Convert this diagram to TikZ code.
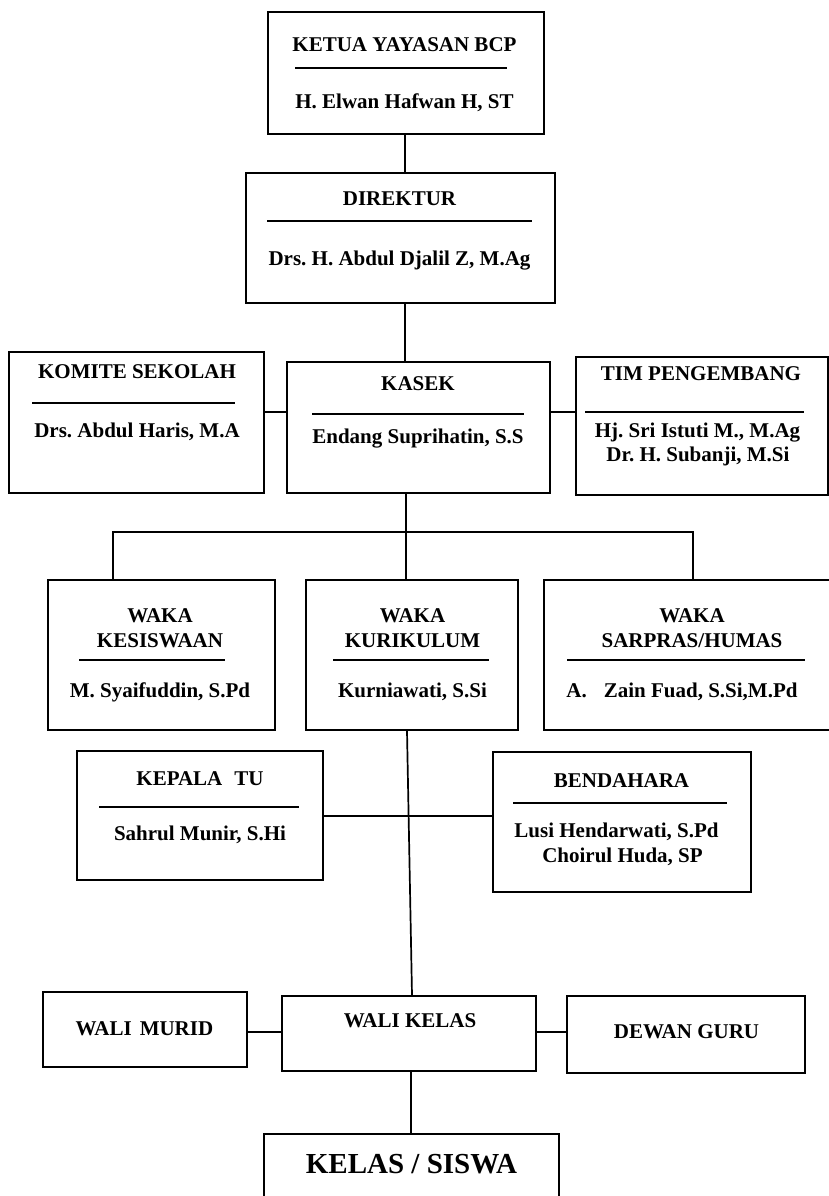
\documentclass[tikz,border=0pt]{standalone}
\usepackage{fontspec}
\setmainfont{Liberation Serif}
\frenchspacing
\begin{document}
\begin{tikzpicture}[x=1pt,y=-1pt,
  box/.style={draw, line width=1.7pt, rectangle, inner sep=0pt},
  ttl/.style={font=\fontsize{21}{24}\selectfont\bfseries, anchor=base, inner sep=0pt},
  big/.style={font=\fontsize{29}{32}\selectfont\bfseries, anchor=base, inner sep=0pt},
  ul/.style={line width=1.7pt},
  conn/.style={line width=1.7pt}]
\useasboundingbox (0,0) rectangle (829,1196);
% boxes
\node[box, minimum width=276pt, minimum height=122pt] (ketua) at (406,73) {};
\node[box, minimum width=309pt, minimum height=130pt] (direktur) at (400.5,238) {};
\node[box, minimum width=255pt, minimum height=141pt] (komite) at (136.5,422.5) {};
\node[box, minimum width=263pt, minimum height=131pt] (kasek) at (418.5,427.5) {};
\node[box, minimum width=252pt, minimum height=138pt] (tim) at (702,426) {};
\node[box, minimum width=227pt, minimum height=150pt] (kes) at (161.5,655) {};
\node[box, minimum width=212pt, minimum height=150pt] (kur) at (412,655) {};
\node[box, minimum width=296pt, minimum height=150pt] (sar) at (692,655) {};
\node[box, minimum width=246pt, minimum height=129pt] (tu) at (200,815.5) {};
\node[box, minimum width=258pt, minimum height=140pt] (bend) at (622,822) {};
\node[box, minimum width=204pt, minimum height=75pt] (murid) at (145,1029.5) {};
\node[box, minimum width=254pt, minimum height=75pt] (kelas) at (409,1033.5) {};
\node[box, minimum width=238pt, minimum height=77pt] (dewan) at (686,1034.5) {};
\node[box, minimum width=295pt, minimum height=96pt] (siswa) at (411.5,1182) {};
% texts
\node[ttl] (ketuaT) at (404.5,52) {KETUA YAYASAN BCP};
\draw[ul] (295,68) -- (507,68);
\node[ttl] (ketuaN) at (404.5,109) {H. Elwan Hafwan H, ST};
\node[ttl] (direkturT) at (399.5,205) {DIREKTUR};
\draw[ul] (267,221) -- (532,221);
\node[ttl] (direkturN) at (399.5,265) {Drs. H. Abdul Djalil Z, M.Ag};
\node[ttl] (komiteT) at (137,378) {KOMITE SEKOLAH};
\draw[ul] (32,403) -- (235,403);
\node[ttl] (komiteN) at (137,437) {Drs. Abdul Haris, M.A};
\node[ttl] (kasekT) at (418,390) {KASEK};
\draw[ul] (312,414) -- (524,414);
\node[ttl] (kasekN) at (418,443) {Endang Suprihatin, S.S};
\node[ttl] (timT) at (701,380) {TIM PENGEMBANG};
\draw[ul] (585,412) -- (804,412);
\node[ttl] (timN1) at (697.5,437) {Hj. Sri Istuti M., M.Ag};
\node[ttl] (timN2) at (698,461) {Dr. H. Subanji, M.Si};
\node[ttl] (kesT1) at (160,622) {WAKA};
\node[ttl] (kesT2) at (160,647) {KESISWAAN};
\draw[ul] (79,660) -- (225,660);
\node[ttl] (kesN) at (160,697) {M. Syaifuddin, S.Pd};
\node[ttl] (kurT1) at (412.5,622) {WAKA};
\node[ttl] (kurT2) at (412.5,647) {KURIKULUM};
\draw[ul] (333,660) -- (489,660);
\node[ttl] (kurN) at (412.5,697) {Kurniawati, S.Si};
\node[ttl] (sarT1) at (692,622) {WAKA};
\node[ttl] (sarT2) at (692,647) {SARPRAS/HUMAS};
\draw[ul] (567,660) -- (805,660);
\node[ttl] (sarN) at (682,697) {A.\hspace{17pt}Zain Fuad, S.Si,M.Pd};
\node[ttl] (tuT) at (200,785) {KEPALA\hspace{12pt}TU};
\draw[ul] (99,807) -- (299,807);
\node[ttl] (tuN) at (200,840) {Sahrul Munir, S.Hi};
\node[ttl] (bendT) at (621.5,787) {BENDAHARA};
\draw[ul] (513,803) -- (727,803);
\node[ttl] (bendN1) at (616.5,837) {Lusi Hendarwati, S.Pd};
\node[ttl] (bendN2) at (622.5,862) {Choirul Huda, SP};
\node[ttl] (muridT) at (144.5,1035) {WALI\hspace{8pt}MURID};
\node[ttl] (kelasT) at (410,1027) {WALI KELAS};
\node[ttl] (dewanT) at (686.5,1038) {DEWAN GURU};
\node[big] (siswaT) at (411.5,1173) {KELAS / SISWA};
% connectors
\draw[conn] (ketua.south -| 405,0) -- (direktur.north -| 405,0);
\draw[conn] (direktur.south -| 405,0) -- (kasek.north -| 405,0);
\draw[conn] (komite.east |- 0,412) -- (kasek.west |- 0,412);
\draw[conn] (kasek.east |- 0,412) -- (tim.west |- 0,412);
\coordinate (bus) at (406,532);
\coordinate (busL) at (113,532);
\coordinate (busR) at (693,532);
\draw[conn] (kasek.south -| bus) -- (bus);
\draw[conn] (busL |- kes.north) -- (busL) -- (busR) -- (busR |- sar.north);
\draw[conn] (bus) -- (bus |- kur.north);
\draw[conn] (kur.south -| 407,0) -- (kelas.north -| 412,0);
\draw[conn] (tu.east |- 0,816) -- (bend.west |- 0,816);
\draw[conn] (murid.east |- 0,1032) -- (kelas.west |- 0,1032);
\draw[conn] (kelas.east |- 0,1032) -- (dewan.west |- 0,1032);
\draw[conn] (kelas.south -| 411,0) -- (siswa.north -| 411,0);
\end{tikzpicture}
\end{document}
